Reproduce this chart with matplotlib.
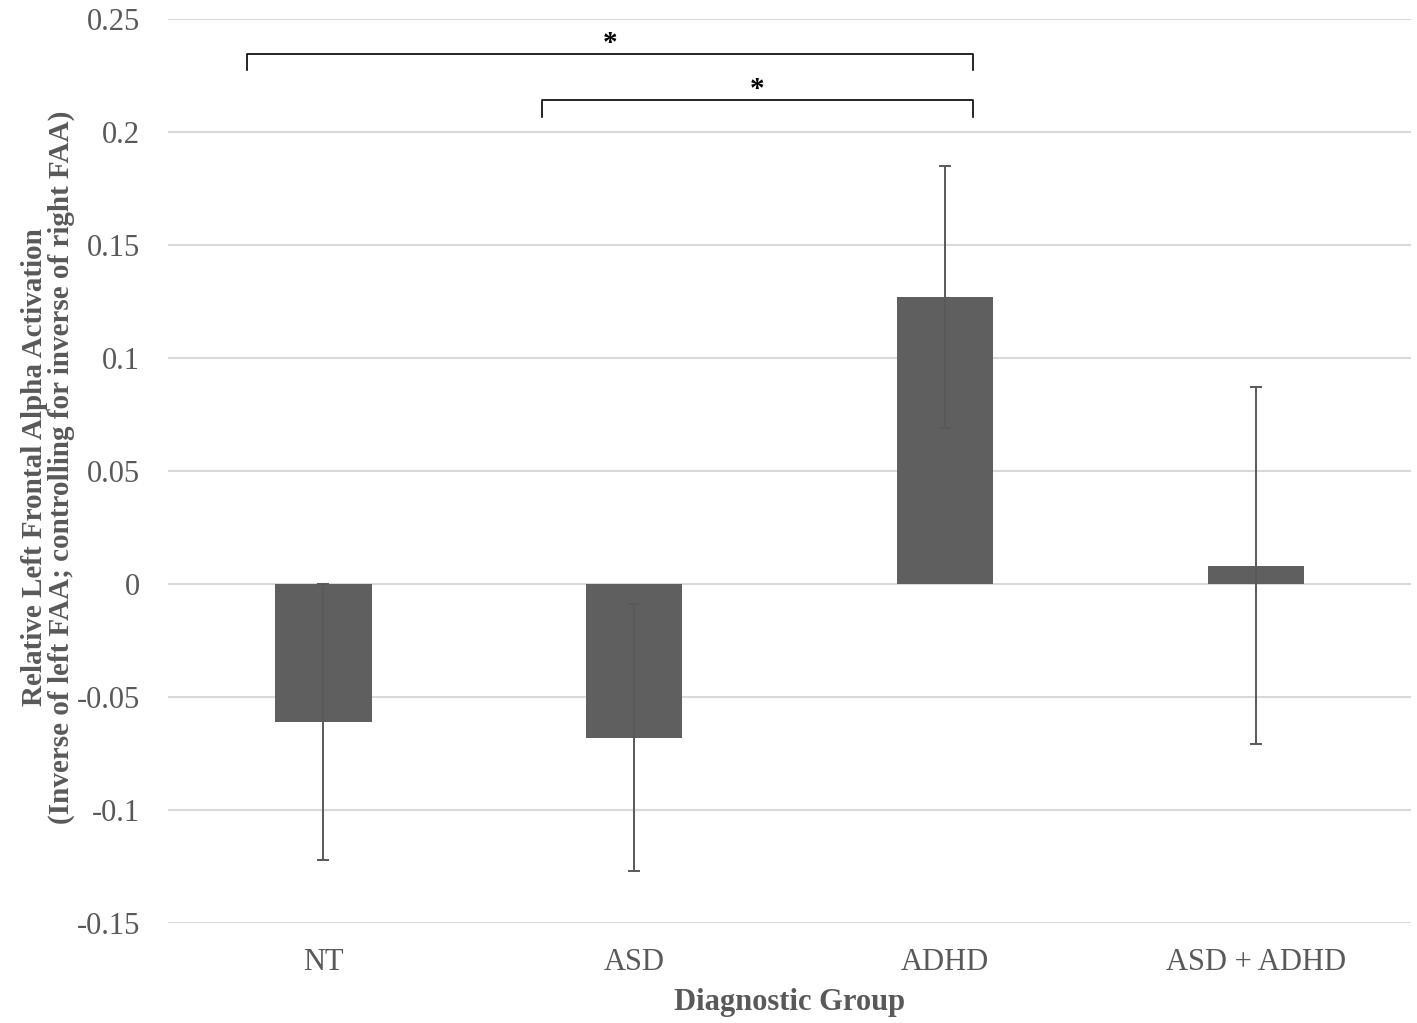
import matplotlib.pyplot as plt
import numpy as np

groups = ['NT', 'ASD', 'ADHD', 'ASD + ADHD']
means = [-0.061, -0.068, 0.127, 0.008]
errors = [0.061, 0.059, 0.058, 0.079]
yticks = [-0.15, -0.1, -0.05, 0, 0.05, 0.1, 0.15, 0.2, 0.25]
ytick_labels = ['-0.15', '-0.1', '-0.05', '0', '0.05', '0.1', '0.15', '0.2', '0.25']

# significance brackets: (x start, x end, y top, tip length)
brackets = [(-0.245, 2.09, 0.2345, 0.0072), (0.703, 2.09, 0.2142, 0.0076)]

plt.rcParams['font.family'] = ['Liberation Serif', 'DejaVu Serif']
grey = '#595959'

fig = plt.figure(figsize=(14.17, 10.23), dpi=100)
ax = fig.add_axes([0.1186, 0.0978, 0.8772, 0.8836])

x = np.arange(len(groups))
ax.bar(x, means, width=0.31, color='#5f5f5f', zorder=2)
ax.errorbar(x, means, yerr=errors, fmt='none', ecolor=grey, elinewidth=1.4,
            capsize=4, capthick=1.4, zorder=3)

ax.set_xlim(-0.5, 3.5)
ax.set_ylim(-0.15, 0.25)
ax.set_yticks(yticks)
ax.set_yticklabels(ytick_labels)
ax.set_xticks(x)
ax.set_xticklabels(groups)
ax.yaxis.grid(True, color='#d9d9d9', linewidth=1.5, zorder=0)
ax.set_axisbelow(True)
for s in ax.spines.values():
    s.set_visible(False)
ax.tick_params(axis='both', length=0, labelsize=22, labelcolor=grey)
ax.tick_params(axis='y', pad=20)
ax.tick_params(axis='x', pad=18)

for x0, x1, yt, tip in brackets:
    ax.plot([x0, x0, x1, x1], [yt - tip, yt, yt, yt - tip], color='black', lw=1.2,
            clip_on=False, zorder=4)
    ax.text((x0 + x1) / 2, yt + 0.0012, '*', ha='center', va='baseline', fontsize=21,
            fontweight='bold', color='black')

ax.set_xlabel('Diagnostic Group', fontsize=22, fontweight='bold', color=grey, labelpad=8)
fig.text(0.034, 0.543,
         'Relative Left Frontal Alpha Activation\n(Inverse of left FAA; controlling for inverse of right FAA)',
         rotation=90, ha='center', va='center', multialignment='center',
         fontsize=21, fontweight='bold', color=grey, linespacing=1.0)

fig.savefig('out.png', dpi=100)
